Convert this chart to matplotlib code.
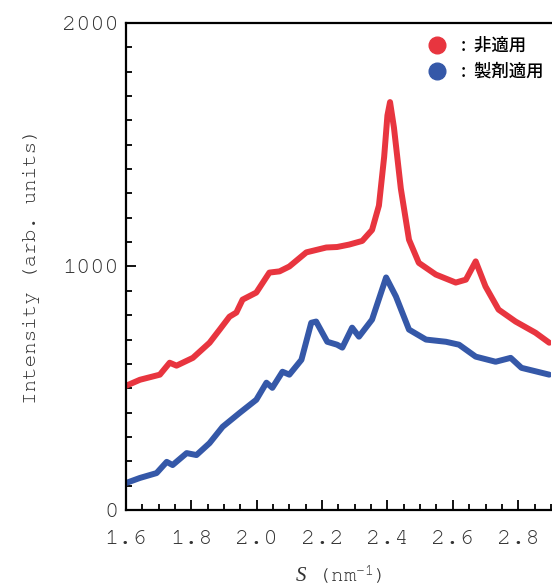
import matplotlib.pyplot as plt
from matplotlib.lines import Line2D

# data
s_red = [1.60, 1.643, 1.704, 1.734, 1.755, 1.805, 1.856, 1.887, 1.917, 1.938, 1.957, 1.999,
         2.039, 2.07, 2.10, 2.152, 2.213, 2.246, 2.283, 2.323, 2.353, 2.374, 2.39, 2.40, 2.408,
         2.42, 2.441, 2.466, 2.496, 2.548, 2.609, 2.64, 2.67, 2.70, 2.74, 2.792, 2.853, 2.895]
i_red = [510, 535, 556, 605, 593, 625, 687, 741, 794, 811, 864, 893,
         975, 980, 1000, 1058, 1078, 1080, 1090, 1105, 1150, 1250, 1450, 1620, 1675,
         1570, 1320, 1110, 1015, 967, 934, 946, 1021, 918, 823, 774, 728, 687]

s_blue = [1.60, 1.643, 1.694, 1.725, 1.743, 1.786, 1.816, 1.856, 1.896, 1.948, 1.999, 2.03,
          2.048, 2.079, 2.10, 2.137, 2.167, 2.182, 2.216, 2.246, 2.262, 2.292, 2.313, 2.353,
          2.396, 2.426, 2.466, 2.518, 2.579, 2.619, 2.67, 2.731, 2.777, 2.81, 2.895]
i_blue = [111, 132, 152, 198, 185, 234, 226, 275, 342, 399, 453, 523,
          502, 568, 556, 617, 769, 774, 691, 679, 667, 749, 712, 782,
          955, 877, 741, 700, 691, 679, 630, 609, 625, 584, 556]

labels = [':  非適用', ':  製剤適用']
red = '#e8353f'
blue = '#3558a8'
txt = '#333333'

mono = ['Courier New', 'Nimbus Mono PS', 'FreeMono', 'Liberation Mono', 'DejaVu Sans']
plt.rcParams['font.family'] = mono
plt.rcParams['mathtext.fontset'] = 'custom'
plt.rcParams['mathtext.it'] = 'Liberation Serif:italic'
plt.rcParams['mathtext.default'] = 'regular'

fig = plt.figure(figsize=(5.52, 5.87), dpi=100)
ax = fig.add_axes([0.228, 0.131, 0.77, 0.830])

ax.plot(s_red, i_red, color=red, lw=4.3, solid_joinstyle='round', solid_capstyle='round')
ax.plot(s_blue, i_blue, color=blue, lw=4.3, solid_joinstyle='round', solid_capstyle='round')

ax.set_xlim(1.6, 2.895)
ax.set_ylim(0, 2000)
ax.set_xticks([1.6, 1.8, 2.0, 2.2, 2.4, 2.6, 2.8])
ax.set_xticklabels(['1.6', '1.8', '2.0', '2.2', '2.4', '2.6', '2.8'])
ax.set_xticks([1.6 + 0.05 * k for k in range(27)], minor=True)
ax.set_yticks([0, 1000, 2000])
ax.set_yticks(range(0, 2001, 100), minor=True)

ax.tick_params(which='both', direction='in', colors='black', labelcolor=txt,
               labelsize=17, width=1.3, top=False, right=False)
ax.tick_params(axis='y', pad=5)
ax.tick_params(axis='x', pad=14)
ax.tick_params(which='major', length=7)
ax.tick_params(which='minor', length=4)
for sp in ['left', 'bottom', 'top']:
    ax.spines[sp].set_linewidth(1.6)
ax.spines['right'].set_visible(False)

ax.set_ylabel('Intensity (arb. units)', fontsize=15, color=txt, labelpad=16)
ax.set_xlabel(r'$\mathit{S}$ (nm$^{-1}$)', fontsize=15, color=txt, labelpad=12)

handles = [Line2D([], [], ls='none', marker='o', ms=12, color=red),
           Line2D([], [], ls='none', marker='o', ms=12, color=blue)]
ax.legend(handles, labels, loc='upper right', bbox_to_anchor=(1.0, 0.985), frameon=False,
          handletextpad=0.8, handlelength=1.2, labelspacing=0.45, borderaxespad=0.0,
          prop={'family': ['Noto Sans CJK JP', 'DejaVu Sans'], 'size': 12.5, 'weight': 'medium'})

fig.savefig('out.png', dpi=100)
